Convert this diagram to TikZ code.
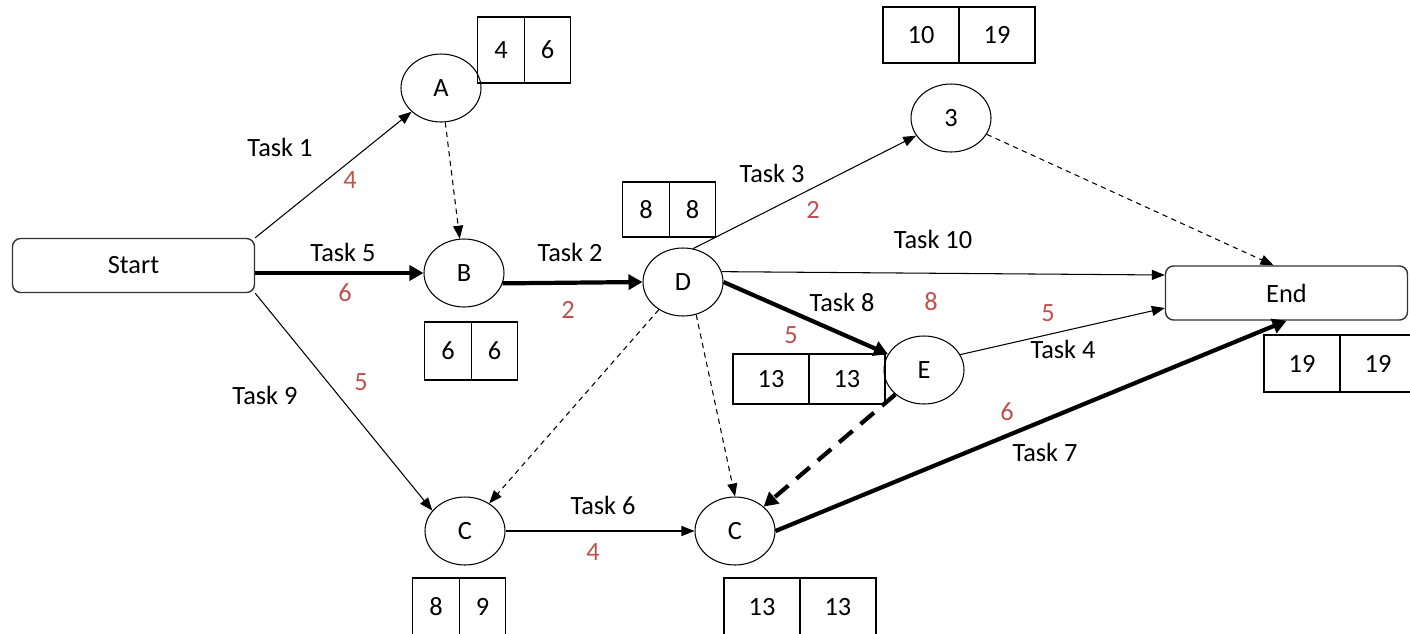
\documentclass[tikz,border=0pt]{standalone}
\usepackage{fontspec}
\setmainfont{Carlito}
\usepackage{tikz}
\usetikzlibrary{arrows.meta,shapes.geometric,positioning,calc}
\definecolor{durred}{RGB}{192,80,77}
\tikzset{
	event/.style={
		% The shape:
		ellipse,minimum width=1.6cm,minimum height=1.36cm,inner sep=0pt,
		% The border:
		draw=black,line width=0.6pt,
	}}
\tikzset{
	terminal/.style={
		% The shape:
		shape=rectangle,rounded corners=1.6mm,
		% The size:
		minimum width=4.84cm,minimum height=1.08cm,
		% The border:
		draw=black!80,line width=0.8pt,
	}}
\tikzset{
	timecell/.style={
		% The shape:
		rectangle,inner sep=0pt,outer sep=0pt,
		% The size:
		minimum width=0.93cm,minimum height=1.16cm,
		% The border:
		draw=black,line width=0.7pt,
	},
	widecell/.style={timecell,minimum width=1.52cm}}
\tikzset{
	task/.style={-{Triangle[length=0.26cm,width=0.2cm]},line width=0.6pt},
	crit/.style={-{Triangle[length=0.28cm,width=0.3cm]},line width=2.4pt},
	dummy/.style={task,dash pattern=on 3pt off 2.5pt},
	critdummy/.style={crit,dash pattern=on 10pt off 6pt},
	tname/.style={inner sep=0pt},
	dur/.style={inner sep=0pt,text=durred},
}

\begin{document}
\begin{tikzpicture}[x=0.02cm,y=-0.02cm,font=\fontsize{15}{18}\selectfont]
	\useasboundingbox (0,0) rectangle (1410,633);
	\clip (0,0) rectangle (1410,633);
	\node[terminal] (start) at (133.5,265.5) {Start};
	\node[terminal] (finish) at (1286.5,293) {End};
	\node[event] (a) at (441,88) {A};
	\node[event] (b) at (464,273) {B};
	\node[event] (d) at (683,282) {D};
	\node[event] (three) at (951,118) {3};
	\node[event] (e) at (924,370) {E};
	\node[event] (c-l) at (465,531) {C};
	\node[event] (c-r) at (735,531) {C};
	\node[timecell,minimum height=1.32cm] (a-es) at (501,50) {4};
	\node[timecell,minimum height=1.32cm,right=0pt of a-es] (a-lf) {6};
	\node[timecell] (b-es) at (448,351) {6};
	\node[timecell,right=0pt of b-es] (b-lf) {6};
	\node[timecell,minimum height=1.1cm] (d-es) at (646,209.5) {8};
	\node[timecell,minimum height=1.1cm,right=0pt of d-es] (d-lf) {8};
	\node[widecell,minimum height=1cm] (e-es) at (771,379) {13};
	\node[widecell,minimum height=1cm,right=0pt of e-es] (e-lf) {13};
	\node[widecell,minimum height=1.12cm] (three-es) at (921,35) {10};
	\node[widecell,minimum height=1.12cm,right=0pt of three-es] (three-lf) {19};
	\node[widecell,minimum height=1.14cm] (finish-es) at (1302,363.5) {19};
	\node[widecell,minimum height=1.14cm,right=0pt of finish-es] (finish-lf) {19};
	\node[timecell] (c-l-es) at (436,607) {8};
	\node[timecell,right=0pt of c-l-es] (c-l-lf) {9};
	\node[widecell] (c-r-es) at (762,607) {13};
	\node[widecell,right=0pt of c-r-es] (c-r-lf) {13};
	\draw[task] (start.north east) -- (a) node[tname] (t1) at (280,147) {Task 1} node[dur] (w1) at (350,180) {4};
	\draw[crit] (start.east |- b.west) -- (b.west) node[tname] (t5) at (343,252) {Task 5} node[dur] (w5) at (345,293) {6};
	\draw[task] (start.south east) -- (c-l.148) node[tname] (t9) at (265,395) {Task 9} node[dur] (w9) at (361,382) {5};
	\draw[dummy] (a) -- (b);
	\draw[crit] (b.-15) -- (d.west) node[tname] (t2) at (570,252) {Task 2} node[dur] (w2) at (568,310) {2};
	\draw[task] (d.73) -- (three) node[tname] (t3) at (772,173) {Task 3} node[dur] (w3) at (813,210) {2};
	\draw[task] (d.15) -- ($(finish.west)+(0,-18)$) node[tname] (t10) at (933,239) {Task 10} node[dur] (w10) at (931,302) {8};
	\draw[crit] (d.east) -- (e) node[tname] (t8) at (842,302) {Task 8} node[dur] (w8) at (791,335) {5};
	\draw[dummy] (d) -- (c-l);
	\draw[dummy] (d.-68) -- (c-r.north);
	\draw[dummy] (three) -- ($(finish.north)+(-13,0)$);
	\draw[task] (e.23) -- ($(finish.west)+(0,15)$) node[tname] (t4) at (1063,349) {Task 4} node[dur] (w4) at (1048,313) {5};
	\draw[critdummy] (e) -- (c-r);
	\draw[task] (c-l) -- (c-r) node[tname] (t6) at (603,505) {Task 6} node[dur] (w6) at (593,552) {4};
	\draw[crit] (c-r.east) -- (finish.south) node[tname] (t7) at (1045,452) {Task 7} node[dur] (w7) at (1007,412) {6};
\end{tikzpicture}
\end{document}
